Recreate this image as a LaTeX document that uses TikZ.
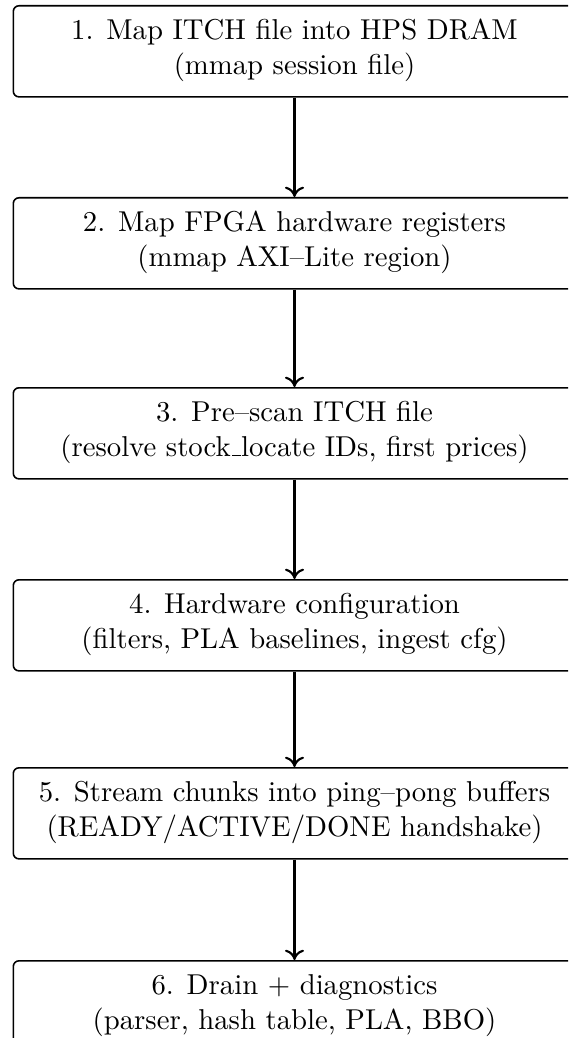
\documentclass[tikz,border=0pt]{standalone}
\usetikzlibrary{arrows.meta}
% baseline underscore, as in the classic OT1 \_
\newcommand\baseunderscore{\leavevmode\kern.06em\vbox{\hrule width.3em}}
\begin{document}
\begin{tikzpicture}[x=0.348pt, y=-0.348pt,
  stepframe/.style={draw, line width=0.55pt, rounded corners=2pt,
    minimum width=196.3pt, minimum height=31.7pt, anchor=north west,
    inner sep=0pt},
  steptext/.style={align=center, inner sep=0pt},
  flow/.style={-{To[length=3.6pt, width=6.6pt]}, line width=0.75pt}]
\useasboundingbox (0,0) rectangle (568,1038);
\clip (0,0) rectangle (568,1038);

% step frames
\node[stepframe] (b1) at (12.5,5) {};
\node[stepframe] (b2) at (12.5,197) {};
\node[stepframe] (b3) at (12.5,387) {};
\node[stepframe] (b4) at (12.5,579) {};
\node[stepframe] (b5) at (12.5,767) {};
\node[stepframe] (b6) at (12.5,960) {};

% step labels
\node[steptext] (t1) at (294.5,50.5) {1. Map ITCH file into HPS DRAM\\(mmap session file)};
\node[steptext] (t2) at (294.5,242.5) {2. Map FPGA hardware registers\\(mmap AXI--Lite region)};
\node[steptext] (t3) at (294.5,432.5) {3. Pre--scan ITCH file\\(resolve stock\baseunderscore locate IDs, first prices)};
\node[steptext] (t4) at (294.5,624.5) {4. Hardware configuration\\(filters, PLA baselines, ingest cfg)};
\node[steptext] (t5) at (294.5,812.5) {5. Stream chunks into ping--pong buffers\\(READY/ACTIVE/DONE handshake)};
\node[steptext] (t6) at (294.5,1005.5) {6. Drain + diagnostics\\(parser, hash table, PLA, BBO)};

% flow between steps
\draw[flow] (b1.south -| t1.center) -- (b2.north -| t1.center);
\draw[flow] (b2.south -| t2.center) -- (b3.north -| t2.center);
\draw[flow] (b3.south -| t3.center) -- (b4.north -| t3.center);
\draw[flow] (b4.south -| t4.center) -- (b5.north -| t4.center);
\draw[flow] (b5.south -| t5.center) -- (b6.north -| t5.center);
\end{tikzpicture}
\end{document}
